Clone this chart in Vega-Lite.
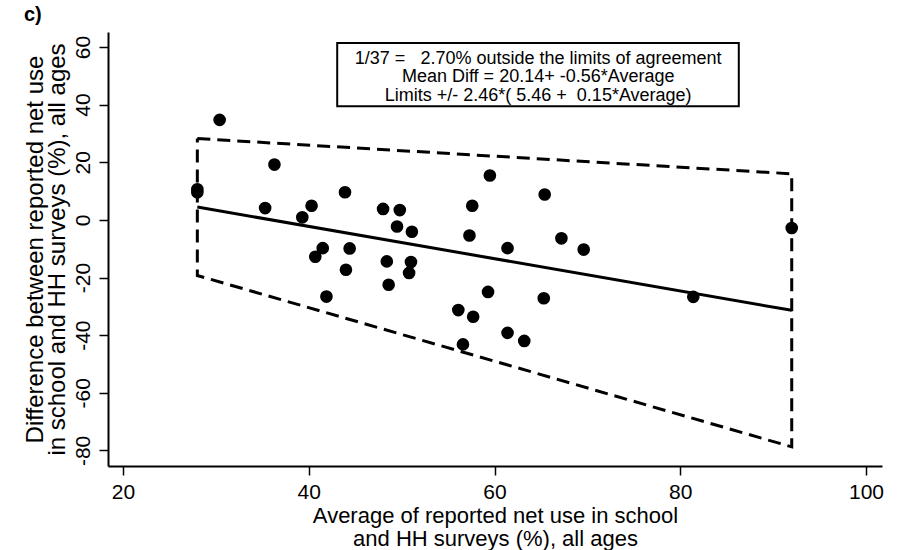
{
  "$schema": "https://vega.github.io/schema/vega-lite/v6.json",
  "width": 774,
  "height": 434,
  "autosize": {"type": "none"},
  "padding": {"left": 108, "top": 32, "right": 23, "bottom": 84},
  "background": "white",
  "config": {"view": {"stroke": null}, "font": "Liberation Sans"},
  "title": {"text": "c)", "anchor": "start", "frame": "group", "dx": -84, "offset": 7, "fontSize": 20, "fontWeight": "bold", "color": "black", "font": "Liberation Sans"},
  "datasets": {
    "points": [
      {"avg": 28.0, "diff": 10.6}, {"avg": 28.0, "diff": 9.6}, {"avg": 30.4, "diff": 34.7}, {"avg": 36.3, "diff": 19.2},
      {"avg": 35.3, "diff": 4.1}, {"avg": 40.3, "diff": 4.9}, {"avg": 39.3, "diff": 0.9}, {"avg": 43.9, "diff": 9.6},
      {"avg": 41.5, "diff": -9.8}, {"avg": 40.7, "diff": -12.8}, {"avg": 44.4, "diff": -9.9}, {"avg": 44.0, "diff": -17.3},
      {"avg": 41.9, "diff": -26.6}, {"avg": 48.0, "diff": 3.8}, {"avg": 49.8, "diff": 3.4}, {"avg": 49.5, "diff": -2.3},
      {"avg": 51.1, "diff": -4.1}, {"avg": 48.4, "diff": -14.4}, {"avg": 51.0, "diff": -14.6}, {"avg": 50.8, "diff": -18.4},
      {"avg": 48.6, "diff": -22.5}, {"avg": 59.5, "diff": 15.4}, {"avg": 57.6, "diff": 4.9}, {"avg": 57.3, "diff": -5.4},
      {"avg": 59.3, "diff": -25.0}, {"avg": 56.1, "diff": -31.3}, {"avg": 57.7, "diff": -33.6}, {"avg": 56.6, "diff": -43.2},
      {"avg": 65.4, "diff": 8.8}, {"avg": 61.4, "diff": -9.8}, {"avg": 67.2, "diff": -6.4}, {"avg": 69.6, "diff": -10.3},
      {"avg": 65.3, "diff": -27.2}, {"avg": 61.4, "diff": -39.2}, {"avg": 63.2, "diff": -42.0}, {"avg": 81.4, "diff": -26.7},
      {"avg": 92.0, "diff": -2.8}
    ],
    "limits": [
      {"avg": 28, "diff": 28.22, "order": 1},
      {"avg": 92, "diff": 16.0, "order": 2},
      {"avg": 92, "diff": -78.76, "order": 3},
      {"avg": 28, "diff": -19.3, "order": 4},
      {"avg": 28, "diff": 28.22, "order": 5}
    ],
    "mean": [
      {"avg": 28, "diff": 4.46},
      {"avg": 92, "diff": -31.38}
    ],
    "box": [
      {"avg": 43.06, "avg2": 86.3, "diff": 61.4, "diff2": 39.4}
    ],
    "notes": [
      {"avg": 64.7, "diff": 54.2, "label": "1/37 =\u00a0\u00a0\u00a02.70% outside the limits of agreement"},
      {"avg": 64.7, "diff": 47.8, "label": "Mean Diff = 20.14+ -0.56*Average"},
      {"avg": 64.7, "diff": 41.4, "label": "Limits +/- 2.46*( 5.46 +\u00a0\u00a00.15*Average)"}
    ]
  },
  "layer": [
    {
      "data": {"name": "box"},
      "mark": {"type": "rect", "fill": "white", "stroke": "black", "strokeWidth": 2},
      "encoding": {
        "x": {
          "field": "avg", "type": "quantitative",
          "scale": {"domain": [18.38, 101.72], "nice": false, "zero": false},
          "axis": {
            "values": [20, 40, 60, 80, 100], "grid": false,
            "domainColor": "black", "domainWidth": 2, "tickColor": "black", "tickWidth": 1.5, "tickSize": 9,
            "labelFontSize": 21, "labelColor": "black", "labelPadding": 6, "labelFont": "Liberation Sans",
            "title": ["Average of reported net use in school", "and HH surveys (%), all ages"],
            "titleFontSize": 22, "titleFontWeight": "normal", "titleColor": "black", "titleLineHeight": 23, "titlePadding": 3, "titleFont": "Liberation Sans"
          }
        },
        "x2": {"field": "avg2"},
        "y": {
          "field": "diff", "type": "quantitative",
          "scale": {"domain": [-85.4, 65.2], "nice": false, "zero": false},
          "axis": {
            "values": [-80, -60, -40, -20, 0, 20, 40, 60], "grid": false,
            "labelExpr": "datum.value + ''", "labelAngle": -90,
            "domainColor": "black", "domainWidth": 2, "tickColor": "black", "tickWidth": 1.5, "tickSize": 9,
            "labelFontSize": 21, "labelColor": "black", "labelPadding": 6, "labelFont": "Liberation Sans",
            "title": ["Difference between reported net use", "in school and HH surveys (%), all ages"],
            "titleFontSize": 24, "titleFontWeight": "normal", "titleColor": "black", "titleLineHeight": 22, "titlePadding": 3, "titleFont": "Liberation Sans"
          }
        },
        "y2": {"field": "diff2"}
      }
    },
    {
      "data": {"name": "notes"},
      "mark": {"type": "text", "fontSize": 18, "align": "center", "baseline": "alphabetic", "color": "black", "font": "Liberation Sans"},
      "encoding": {
        "x": {"field": "avg", "type": "quantitative"},
        "y": {"field": "diff", "type": "quantitative"},
        "text": {"field": "label"}
      }
    },
    {
      "data": {"name": "limits"},
      "mark": {"type": "line", "color": "black", "strokeWidth": 3, "strokeDash": [13, 7]},
      "encoding": {
        "x": {"field": "avg", "type": "quantitative"},
        "y": {"field": "diff", "type": "quantitative"},
        "order": {"field": "order", "type": "quantitative"}
      }
    },
    {
      "data": {"name": "mean"},
      "mark": {"type": "line", "color": "black", "strokeWidth": 3},
      "encoding": {
        "x": {"field": "avg", "type": "quantitative"},
        "y": {"field": "diff", "type": "quantitative"}
      }
    },
    {
      "data": {"name": "points"},
      "mark": {"type": "circle", "size": 160, "color": "black", "opacity": 1},
      "encoding": {
        "x": {"field": "avg", "type": "quantitative"},
        "y": {"field": "diff", "type": "quantitative"}
      }
    }
  ]
}
